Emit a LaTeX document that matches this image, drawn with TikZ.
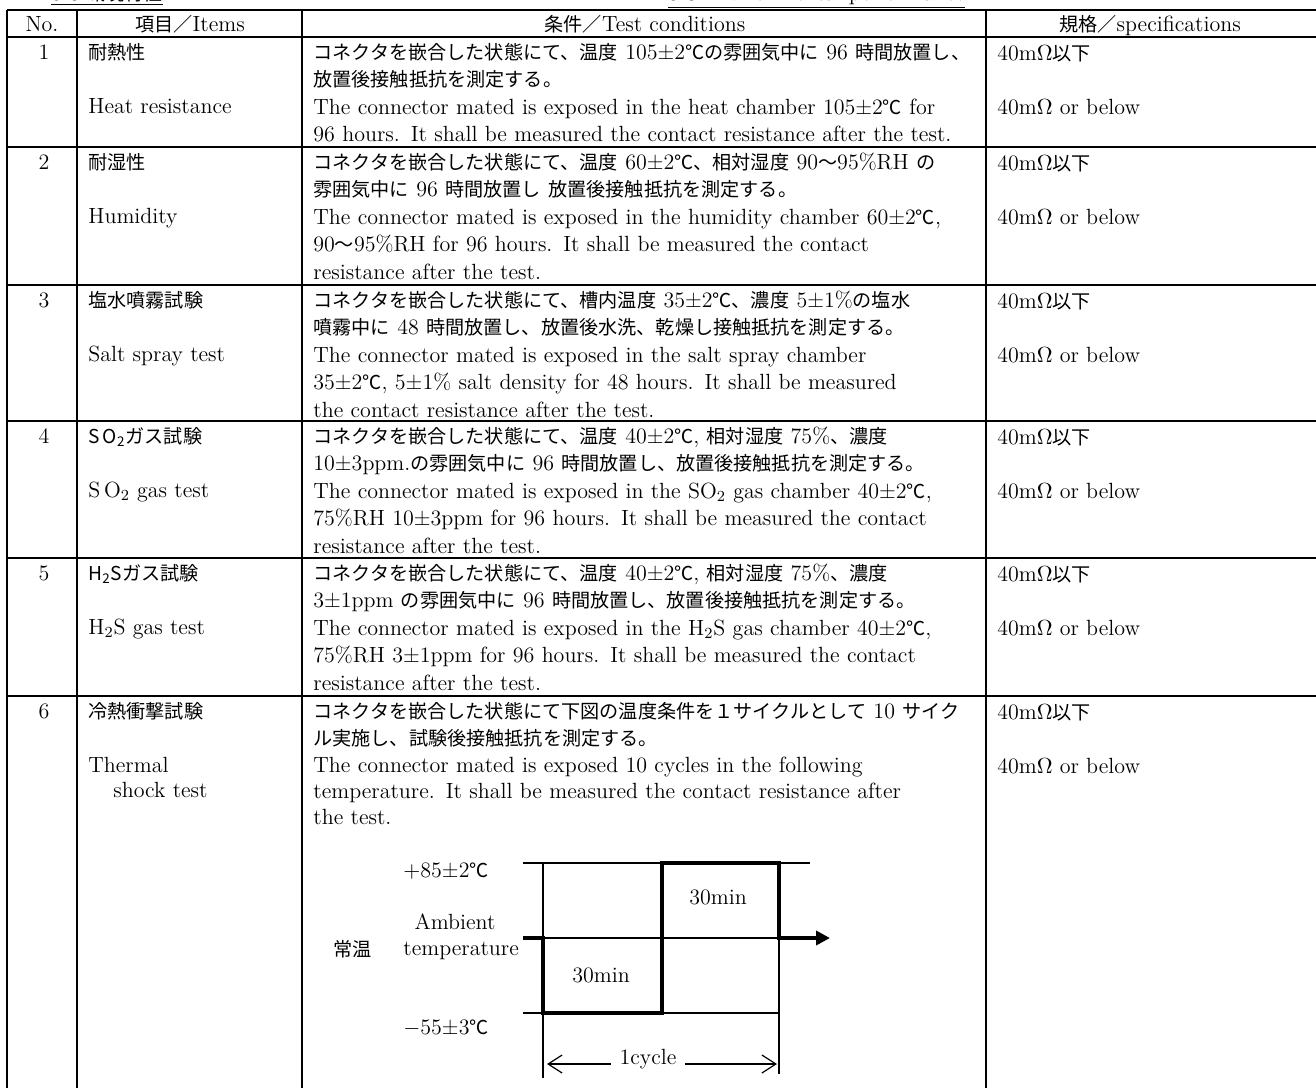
\documentclass[tikz,border=0pt]{standalone}
\usepackage{fontspec}
\usepackage{tikz}
\usetikzlibrary{arrows.meta}
\newfontfamily\jp{Noto Sans CJK JP}[Scale=0.87]
\newcommand\J[1]{{\jp #1}}
\newcommand\dg{{\jp ℃}}
\newcommand\full[1]{\makebox[331pt][s]{#1}}
\tikzstyle{txt}=[anchor=base west,inner sep=0pt]
\tikzstyle{mid}=[anchor=base,inner sep=0pt]
\tikzstyle{cond}=[anchor=base west,inner sep=0pt,text width=331pt,align=left]
\tikzstyle{grid line}=[line width=0.8pt]
\tikzstyle{thin line}=[line width=0.6pt]
\tikzstyle{pulse}=[line width=1.8pt]

\begin{document}
\begin{tikzpicture}[x=0.5pt,y=-0.5pt,every node/.style={font=\fontsize{11}{13.8}\selectfont}]
\useasboundingbox (0,0) rectangle (1316,1087);
\node[txt] (ttl1) at (51,0) {\underline{5-3.\J{環境特性}}};
\node[txt] (ttl2) at (668,0) {\underline{5-3.Environmental performance}};
% table
\draw[grid line] (7,10) -- (1320,10);
\foreach \y in {37,147,285,421,558,696} \draw[grid line] (7,\y) -- (1320,\y);
\foreach \x in {7,77,302,986} \draw[grid line] (\x,10) -- (\x,1090);
\node[mid] (hno) at (42,31) {No.};
\node[mid] (hit) at (190,31) {\J{項目／}Items};
\node[mid] (hcd) at (645,31) {\J{条件／}Test conditions};
\node[mid] (hsp) at (1150,31) {\J{規格／}specifications};
\foreach \no/\ytop/\itj/\ite in {1/37/耐熱性/Heat resistance, 2/147/耐湿性/Humidity,
  3/285/塩水噴霧試験/Salt spray test, 4/421/{S\,O\textsubscript{2}\J{ガス試験}}/{S\,O\textsubscript{2} gas test},
  5/558/{H\textsubscript{2}S\J{ガス試験}}/{H\textsubscript{2}S gas test}, 6/696/冷熱衝撃試験/Thermal}{
  \node[mid] (no\no) at (44,\ytop+22) {\no};
  \node[txt] (itj\no) at (88,\ytop+22) {\J{\itj}};
  \node[txt] (ite\no) at (88,\ytop+76) {\ite};
  \node[txt] (spj\no) at (997,\ytop+23) {40m$\Omega$\J{以下}};
  \node[txt] (spe\no) at (997,\ytop+77) {40m$\Omega$ or below};
}
\node[txt] (ite6b) at (113,797) {shock test};
% conditions
\node[cond] (cnd1) at (313,59) {\full{\J{コネクタを嵌合した状態にて、温度} 105±2\J{℃の雰囲気中に} 96 \J{時間放置し、}}\\
\J{放置後接触抵抗を測定する。}\\
\full{The connector mated is exposed in the heat chamber 105±2\dg{} for}\\
\full{96 hours. It shall be measured the contact resistance after the test.}};
\node[cond] (cnd2) at (313,169) {\J{コネクタを嵌合した状態にて、温度} 60±2\J{℃、相対湿度} 90\J{～}95\%RH \J{の}\\
\J{雰囲気中に} 96 \J{時間放置し} \J{放置後接触抵抗を測定する。}\\
The connector mated is exposed in the humidity chamber 60±2\dg,\\
90\J{～}95\%RH for 96 hours. It shall be measured the contact\\
resistance after the test.};
\node[cond] (cnd3) at (313,307) {\J{コネクタを嵌合した状態にて、槽内温度} 35±2\J{℃、濃度} 5±1\%\J{の塩水}\\
\J{噴霧中に} 48 \J{時間放置し、放置後水洗、乾燥し接触抵抗を測定する。}\\
The connector mated is exposed in the salt spray chamber\\
35±2\dg, 5±1\% salt density for 48 hours. It shall be measured\\
the contact resistance after the test.};
\node[cond] (cnd4) at (313,443) {\J{コネクタを嵌合した状態にて、温度} 40±2\dg, \J{相対湿度} 75\%\J{、濃度}\\
10±3ppm.\J{の雰囲気中に} 96 \J{時間放置し、放置後接触抵抗を測定する。}\\
\full{The connector mated is exposed in the SO\textsubscript{2} gas chamber 40±2\dg,}\\
75\%RH 10±3ppm for 96 hours. It shall be measured the contact\\
resistance after the test.};
\node[cond] (cnd5) at (313,580) {\J{コネクタを嵌合した状態にて、温度} 40±2\dg, \J{相対湿度} 75\%\J{、濃度}\\
3±1ppm \J{の雰囲気中に} 96 \J{時間放置し、放置後接触抵抗を測定する。}\\
\full{The connector mated is exposed in the H\textsubscript{2}S gas chamber 40±2\dg,}\\
75\%RH 3±1ppm for 96 hours. It shall be measured the contact\\
resistance after the test.};
\node[cond] (cnd6) at (313,718) {\full{\J{コネクタを嵌合した状態にて下図の温度条件を１サイクルとして} 10 \J{サイク}}\\
\J{ル実施し、試験後接触抵抗を測定する。}\\[-0.5pt]
The connector mated is exposed 10 cycles in the following\\[-0.8pt]
temperature. It shall be measured the contact resistance after\\[-0.8pt]
the test.};
% thermal cycle
\coordinate (a1) at (523,863); \coordinate (b1) at (543,863); \coordinate (c1) at (662,863);
\coordinate (d1) at (779,863); \coordinate (e1) at (810,863);
\coordinate (a2) at (523,938); \coordinate (b2) at (543,938); \coordinate (d2) at (779,938);
\coordinate (f2) at (830,938);
\coordinate (a3) at (523,1013); \coordinate (b3) at (543,1013); \coordinate (c3) at (662,1013);
\coordinate (d3) at (779,1013);
\coordinate (b4) at (543,1078); \coordinate (d4) at (779,1074);
\draw[thin line] (a1) -- (c1) (d1) -- (e1) (b2) -- (d2) (a3) -- (b3) (c3) -- (d3);
\draw[thin line] (b1) -- (b2) (b3) -- (b4) (d2) -- (d4);
\draw[pulse,-{Triangle[length=7pt,width=7pt]}] (a2) -- (b2) -- (b3) -- (c3) -- (c1) -- (d1) -- (d2) -- (f2);
\node[txt] (hot) at (403,877) {$+$85±2\dg};
\node[txt] (cold) at (403,1034) {$-$55±3\dg};
\node[mid] (amb1) at (455,929) {Ambient};
\node[txt] (amb2) at (403,955) {temperature};
\node[txt] (jouon) at (333,956) {\J{常温}};
\node[mid] (thot) at (718,904) {30min};
\node[mid] (tcold) at (601,982) {30min};
\coordinate (cl) at (547,1064); \coordinate (cr) at (777,1064);
\node[anchor=base,inner xsep=4pt,inner ysep=0pt] (cyc) at (648,1064) {1cycle};
\draw[thin line,{Straight Barb[length=7pt,width=9pt]}-] (cl) -- (cyc.base west);
\draw[thin line,-{Straight Barb[length=7pt,width=9pt]}] (cyc.base east) -- (cr);
\end{tikzpicture}
\end{document}
